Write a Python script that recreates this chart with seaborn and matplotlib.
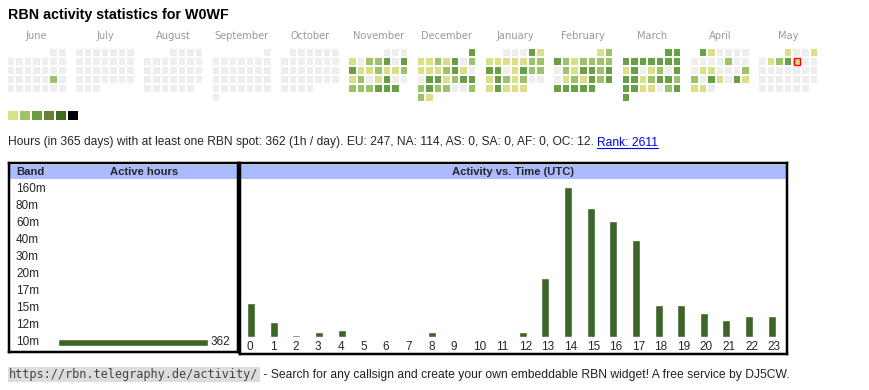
import datetime as dt
import numpy as np
import pandas as pd
import matplotlib
matplotlib.use("Agg")
import matplotlib.pyplot as plt
from matplotlib.colors import ListedColormap
from matplotlib.patches import Rectangle
from matplotlib.lines import Line2D
import seaborn as sns

# ---------------- data ----------------
TITLE = "RBN activity statistics for W0WF"
month_names = ["June", "July", "August", "September", "October", "November",
               "December", "January", "February", "March", "April", "May"]
month_starts = [(2024, 6), (2024, 7), (2024, 8), (2024, 9), (2024, 10), (2024, 11),
                (2024, 12), (2025, 1), (2025, 2), (2025, 3), (2025, 4), (2025, 5)]
# activity level per day (0 = none, 1..6 = legend levels)
lv_jun = [0] * 21 + [2] + [0] * 8
lv_jul = [0] * 31
lv_aug = [0] * 31
lv_sep = [0] * 30
lv_oct = [0] * 31
lv_nov = [0, 0, 0,
          1, 0, 2, 2, 3, 0, 3,
          3, 1, 1, 2, 1, 1, 2,
          1, 2, 0, 1, 3, 0, 0,
          2, 2, 2, 3, 3, 3]
lv_dec = [3,
          1, 1, 2, 1, 3, 0, 2,
          1, 1, 1, 2, 3, 1, 0,
          0, 3, 3, 1, 2, 3, 3,
          2, 3, 2, 2, 0, 0, 2,
          2, 1]
lv_jan = [0, 0, 0, 3, 1,
          1, 1, 1, 1, 1, 2, 2,
          3, 3, 0, 1, 3, 2, 2,
          1, 3, 2, 1, 2, 0, 0,
          1, 3, 1, 1, 1]
lv_feb = [1, 2,
          3, 2, 1, 2, 2, 2, 2,
          0, 2, 1, 3, 3, 2, 3,
          0, 1, 2, 1, 3, 2, 3,
          3, 3, 3, 3, 3]
lv_mar = [3, 3,
          3, 3, 3, 3, 3, 3, 3,
          1, 3, 0, 1, 2, 0, 3,
          3, 3, 1, 2, 3, 3, 2,
          3, 3, 1, 1, 0, 2, 3,
          3]
lv_apr = [3, 1, 0, 0, 0, 0,
          0, 0, 0, 0, 2, 0, 0,
          0, 1, 1, 0, 0, 0, 2,
          2, 0, 3, 1, 0, 3, 1,
          1, 1, 0]
lv_may = [1, 0, 0, 1,
          0, 1, 2, 3, 1, 0, 0] + [0] * 20
month_levels = [lv_jun, lv_jul, lv_aug, lv_sep, lv_oct, lv_nov,
                lv_dec, lv_jan, lv_feb, lv_mar, lv_apr, lv_may]
today = dt.date(2025, 5, 9)

level_colors = ["#eeeeee", "#d9e088", "#9cc36a", "#69a046", "#6a7e3c", "#3c6a27", "#000000"]
legend_levels = [1, 2, 3, 4, 5, 6]

summary_text = ("Hours (in 365 days) with at least one RBN spot: 362 (1h / day). "
                "EU: 247, NA: 114, AS: 0, SA: 0, AF: 0, OC: 12.")
rank_text = "Rank: 2611"

bands = ["160m", "80m", "60m", "40m", "30m", "20m", "17m", "15m", "12m", "10m"]
band_hours = [0, 0, 0, 0, 0, 0, 0, 0, 0, 362]

hours = [str(h) for h in range(24)]
hour_counts = [16, 7, 1, 2, 3, 0, 0, 0, 2, 0, 0, 0, 2, 28, 71, 61, 55, 46, 15, 15, 11, 8, 10, 10]

footer_url = "https://rbn.telegraphy.de/activity/"
footer_text = " - Search for any callsign and create your own embeddable RBN widget! A free service by DJ5CW."

# ---------------- style ----------------
sns.set_style("white")
plt.rcParams["font.family"] = ["Liberation Sans", "DejaVu Sans"]
W, H = 870, 390
PT = 0.72  # points per pixel at dpi 100
BAR_GREEN = "#3d6429"
HEAD_BLUE = "#aabbff"


def rect(x0, y0, x1, y1):
    return [x0 / W, 1 - y1 / H, (x1 - x0) / W, (y1 - y0) / H]


fig = plt.figure(figsize=(W / 100, H / 100), dpi=100)
fig.patch.set_facecolor("white")

fig.text(8 / W, 1 - 14.5 / H, TITLE, fontsize=14.2 * PT, fontweight="bold",
         ha="left", va="center", color="#000000")

# ---------------- calendar heatmap ----------------
ncols = len(month_names) * 8 - 1
grid = np.full((6, ncols), np.nan)
today_cell = None
for m, ((yy, mm), levels) in enumerate(zip(month_starts, month_levels)):
    first_wd = dt.date(yy, mm, 1).weekday()
    for d, lv in enumerate(levels, start=1):
        date = dt.date(yy, mm, d)
        r = (d - 1 + first_wd) // 7
        c = m * 8 + date.weekday()
        grid[r, c] = lv
        if date == today:
            today_cell = (c, r)

cmap = ListedColormap(level_colors)
pitch_x, pitch_y = 8.54, 8.9
gap = 1.6
hx0, hy0 = 8 - gap / 2 - 0.4, 49.3 - gap / 2 - 0.4
axh = fig.add_axes(rect(hx0, hy0, hx0 + ncols * pitch_x, hy0 + 6 * pitch_y))
sns.heatmap(grid, ax=axh, cmap=cmap, vmin=-0.5, vmax=6.5, cbar=False,
            linewidths=gap * PT, linecolor="white", xticklabels=False, yticklabels=False)
axh.set_xticks([m * 8 + 3.5 for m in range(len(month_names))])
axh.set_xticklabels(month_names, fontsize=9.9 * PT, color="#999999", family="DejaVu Sans")
axh.xaxis.tick_top()
axh.tick_params(axis="x", length=0, pad=7.0 * PT)
if today_cell is not None:
    gx, gy = (gap / 2 + 0.4) / pitch_x, (gap / 2 + 0.4) / pitch_y
    axh.add_patch(Rectangle((today_cell[0] + gx, today_cell[1] + gy), 1 - 2 * gx, 1 - 2 * gy,
                            fill=False, edgecolor="#ff0000", linewidth=1.4 * PT, zorder=5))

# legend swatches
lg_gap = 1.6
lx0, ly0 = 8 - lg_gap / 2 - 0.4, 111 - lg_gap / 2 - 0.4
axl = fig.add_axes(rect(lx0, ly0, lx0 + 6 * 12, ly0 + 11.6))
sns.heatmap(np.array([legend_levels], dtype=float), ax=axl, cmap=cmap, vmin=-0.5, vmax=6.5,
            cbar=False, linewidths=lg_gap * PT, linecolor="white",
            xticklabels=False, yticklabels=False)

# summary line
t1 = fig.text(8 / W, 1 - 142.5 / H, summary_text, fontsize=12 * PT, ha="left", va="center")
t2 = fig.text(0, 0, rank_text, fontsize=12 * PT, color="#0000ee", ha="left", va="baseline")

# ---------------- band table ----------------
ax_bh = fig.add_axes(rect(9.7, 164.7, 236.6, 178.8))
ax_bh.set_facecolor(HEAD_BLUE)
ax_bh.set_xticks([]); ax_bh.set_yticks([])
for s in ax_bh.spines.values():
    s.set_visible(False)
ax_bh.text((16 - 9.7) / (236.6 - 9.7), 0.5, "Band", transform=ax_bh.transAxes,
           fontsize=11.2 * PT, fontweight="bold", ha="left", va="center")
ax_bh.text((144.5 - 9.7) / (236.6 - 9.7), 0.5, "Active hours", transform=ax_bh.transAxes,
           fontsize=11.2 * PT, fontweight="bold", ha="center", va="center")

bx0, bx1 = 9.7, 236.6
ax_b = fig.add_axes(rect(bx0, 180.5, bx1, 350.5))
band_df = pd.DataFrame({"band": bands, "hours": band_hours})
sns.barplot(data=band_df, x="hours", y="band", orient="h", color=BAR_GREEN,
            saturation=1, width=7 / 17, ax=ax_b)
ppu = 150 / 362  # pixels per hour
ax_b.set_xlim(-(58 - bx0) / ppu, (bx1 - 58) / ppu)
ax_b.set_ylim(len(bands) - 0.5, -0.5)
ax_b.set_xlabel(""); ax_b.set_ylabel("")
ax_b.set_xticks([])
ax_b.tick_params(axis="y", length=0, pad=-(16 - bx0) * PT, labelsize=11.8 * PT)
for lab in ax_b.get_yticklabels():
    lab.set_horizontalalignment("left")
    lab.set_verticalalignment("center")
for s in ax_b.spines.values():
    s.set_visible(False)
for cont in ax_b.containers:
    ax_b.bar_label(cont, labels=[str(v) if v else "" for v in band_hours],
                   padding=3 * PT, fontsize=11.8 * PT)

ax_bf = fig.add_axes(rect(8.6, 163.4, 237.8, 352.3))
ax_bf.patch.set_alpha(0)
ax_bf.set_xticks([]); ax_bf.set_yticks([])
for s in ax_bf.spines.values():
    s.set_visible(True); s.set_linewidth(2.5 * PT); s.set_color("black")

# ---------------- hour bar chart ----------------
ax_th = fig.add_axes(rect(241.0, 164.7, 786.0, 178.8))
ax_th.set_facecolor(HEAD_BLUE)
ax_th.set_xticks([]); ax_th.set_yticks([])
for s in ax_th.spines.values():
    s.set_visible(False)
ax_th.text(0.5, 0.5, "Activity vs. Time (UTC)", transform=ax_th.transAxes,
           fontsize=11.2 * PT, fontweight="bold", ha="center", va="center")

bar_pitch = (771.7 - 251.0) / 23
bar_w = 8.0 / bar_pitch
base_y, unit_px = 336.7, 150 / 71
ax_t = fig.add_axes(rect(251.0 - 0.5 * bar_pitch, 180, 251.0 + 23.5 * bar_pitch, base_y))
hour_df = pd.DataFrame({"hour": hours, "count": hour_counts})
sns.barplot(data=hour_df, x="hour", y="count", order=hours, color=BAR_GREEN,
            saturation=1, width=bar_w, ax=ax_t)
ax_t.set_xlim(-0.5, 23.5)
ax_t.set_ylim(0, (base_y - 180) / unit_px)
ax_t.set_xlabel(""); ax_t.set_ylabel("")
ax_t.set_yticks([])
ax_t.set_xticks([i - bar_w / 2 for i in range(24)])
ax_t.set_xticklabels(hours, ha="left", fontsize=11.8 * PT)
ax_t.tick_params(axis="x", length=0, pad=4.5 * PT)
for s in ax_t.spines.values():
    s.set_visible(False)

ax_tf = fig.add_axes(rect(239.9, 163.4, 787.4, 353.6))
ax_tf.patch.set_alpha(0)
ax_tf.set_xticks([]); ax_tf.set_yticks([])
for s in ax_tf.spines.values():
    s.set_visible(True); s.set_linewidth(2.5 * PT); s.set_color("black")

# ---------------- footer ----------------
f1 = fig.text(9 / W, 1 - 374.5 / H, footer_url, fontsize=11.9 * PT, family="DejaVu Sans Mono",
              color="#444444", ha="left", va="center",
              bbox=dict(facecolor="#dddddd", edgecolor="none", pad=1.0))
f2 = fig.text(0, 0, footer_text, fontsize=12.1 * PT, ha="left", va="baseline", color="#222222")

# place follow-on texts after measuring
fig.canvas.draw()
r = fig.canvas.get_renderer()
inv = fig.transFigure.inverted()
e1 = t1.get_window_extent(r)
t2.set_position(inv.transform((e1.x1 + 3, e1.y0 + 2.5)))
fb = f1.get_window_extent(r)
f2.set_position(inv.transform((fb.x1 + 2, fb.y0 + 2.6)))
fig.canvas.draw()
e2 = t2.get_window_extent(r)
yline = e2.y0 + 1.0
p0 = inv.transform((e2.x0, yline)); p1 = inv.transform((e2.x1, yline))
fig.add_artist(Line2D([p0[0], p1[0]], [p0[1], p1[1]], transform=fig.transFigure,
                      color="#0000ee", linewidth=0.8))

fig.savefig("out.png", dpi=100, facecolor="white")
